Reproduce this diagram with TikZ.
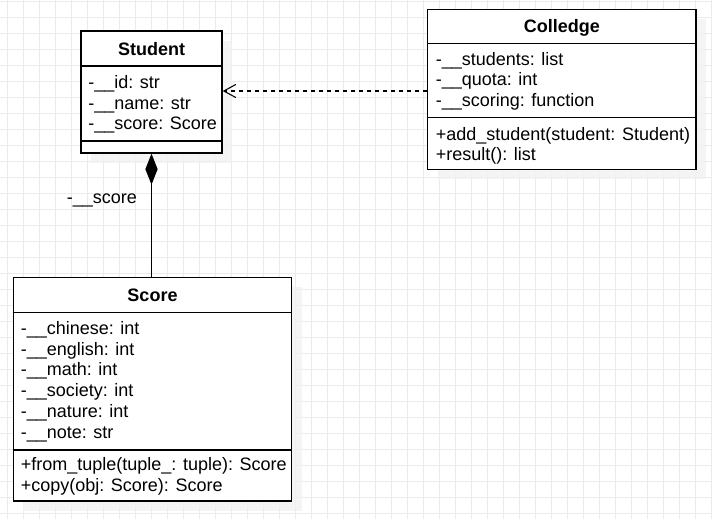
\documentclass[tikz,border=0pt]{standalone}
\usepackage{fontspec}
\setmainfont{Liberation Sans}
\usetikzlibrary{fit,arrows.meta,shadows}
\begin{document}
\begin{tikzpicture}[x=0.75pt,y=-0.75pt,
  gridc/.style={draw=black!8,line width=0.75pt},
  classbox/.style={draw=black,line width=1pt,fill=white,inner sep=0pt,
    drop shadow={shadow xshift=7.5pt,shadow yshift=-7.5pt,fill=black!5,opacity=0.8}},
  divider/.style={draw=black,line width=1pt},
  txt/.style={anchor=base west,inner sep=0pt,font=\fontsize{13.5pt}{15.75pt}\selectfont},
  ttl/.style={anchor=base,inner sep=0pt,font=\fontsize{13.5pt}{15.75pt}\selectfont\bfseries},
  conn/.style={line width=0.8pt,draw=black}
]
\useasboundingbox (0,0) rectangle (712,519);
\fill[white] (0,0) rectangle (712,519);
\foreach \x in {7,23,...,711} \draw[gridc] (\x,0) -- (\x,519);
\foreach \y in {1,17,...,518} \draw[gridc] (0,\y) -- (712,\y);

% Student
\node[classbox,fit={(81,31) (222,153)}] (student) {};
\draw[divider] (student.west |- 0,66) -- (student.east |- 0,66);
\draw[divider] (student.west |- 0,141) -- (student.east |- 0,141);
\node[ttl] (studentT) at (151.5,55.5) {Student};
\node[txt] (s1) at (88,88.3) {-\_\_id: str};
\node[txt] (s2) at (88,109) {-\_\_name: str};
\node[txt] (s3) at (88,129.7) {-\_\_score: Score};

% Colledge
\node[classbox,fit={(427.7,9.3) (696,169.3)}] (colledge) {};
\draw[divider] (colledge.west |- 0,43.3) -- (colledge.east |- 0,43.3);
\draw[divider] (colledge.west |- 0,117.7) -- (colledge.east |- 0,117.7);
\node[ttl] (colledgeT) at (561.8,32.2) {Colledge};
\node[txt] (c1) at (435.5,65) {-\_\_students: list};
\node[txt] (c2) at (435.5,85.5) {-\_\_quota: int};
\node[txt] (c3) at (435.5,106) {-\_\_scoring: function};
\node[txt] (c4) at (435.5,140) {+add\_student(student: Student)};
\node[txt] (c5) at (435.5,160.5) {+result(): list};

% Score
\node[classbox,fit={(13.3,277.3) (291.7,501)}] (score) {};
\draw[divider] (score.west |- 0,312.7) -- (score.east |- 0,312.7);
\draw[divider] (score.west |- 0,450) -- (score.east |- 0,450);
\node[ttl] (scoreT) at (152.5,301.5) {Score};
\node[txt] (r1) at (20.5,334) {-\_\_chinese: int};
\node[txt] (r2) at (20.5,355) {-\_\_english: int};
\node[txt] (r3) at (20.5,375.5) {-\_\_math: int};
\node[txt] (r4) at (20.5,396.5) {-\_\_society: int};
\node[txt] (r5) at (20.5,417.5) {-\_\_nature: int};
\node[txt] (r6) at (20.5,438.5) {-\_\_note: str};
\node[txt] (r7) at (20.5,470.5) {+from\_tuple(tuple\_: tuple): Score};
\node[txt] (r8) at (20.5,491.5) {+copy(obj: Score): Score};

% dependency
\draw[conn,dash pattern=on 3pt off 3pt,-{Straight Barb[length=9pt,width=9.75pt,line width=0.8pt]}]
  (colledge.west |- 0,91) -- (student.east |- 0,91);

% composition
\draw[conn,{Diamond[length=23.25pt,width=9.2pt,fill=black]}-]
  (student.south) -- (student.south |- score.north);
\node[txt] (complabel) at (66.7,203) {-\_\_score};
\end{tikzpicture}
\end{document}
